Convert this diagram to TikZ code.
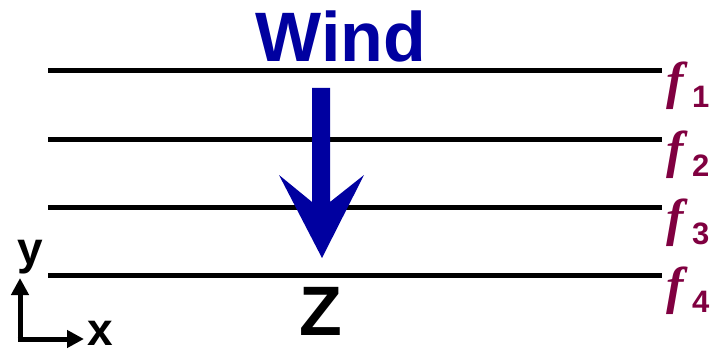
\documentclass[tikz,border=0pt]{standalone}
\usepackage{fontspec}
\setmainfont{Liberation Sans}
\newfontfamily\fserif{Liberation Serif}
\usetikzlibrary{arrows.meta}
\definecolor{windblue}{RGB}{0,0,160}
\definecolor{fcol}{RGB}{128,0,64}
\tikzset{
  layer/.style={line width=5pt},
  bigtxt/.style={inner sep=0pt,font=\bfseries\fontsize{70}{70}\selectfont},
  axtxt/.style={inner sep=0pt,font=\bfseries\fontsize{46}{46}\selectfont},
  flabel/.style={inner sep=0pt,text=fcol,font=\fserif\bfseries\itshape\fontsize{52}{52}\selectfont},
  fsub/.style={inner sep=0pt,text=fcol,font=\bfseries\fontsize{31}{31}\selectfont},
  axis/.style={line width=5pt,-{Triangle[length=17pt,width=17pt]}}
}
\begin{document}
\begin{tikzpicture}[x=1pt,y=-1pt]
\useasboundingbox (0,0) rectangle (713,353);
% layers
\foreach \i/\yy in {1/71,2/139,3/207,4/275}{
  \coordinate (L\i a) at (48,\yy);
  \coordinate (L\i b) at (662,\yy);
  \draw[layer] (L\i a) -- (L\i b);
  \node[flabel,anchor=base west] (f\i) at (666,\yy+28) {f};
  \node[fsub,anchor=base west] (s\i) at (692,\yy+37) {\i};
}
% wind
\node[bigtxt,text=windblue,anchor=base] (wind) at (341,62) {Wind};
\fill[windblue] (312,88) -- (330,88) -- (330,202) -- (364,175) -- (322,258) -- (279,175) -- (312,202) -- cycle;
\node[bigtxt,anchor=base] (z) at (321,335) {Z};
% axes
\coordinate (o) at (20,339);
\coordinate (yt) at (20,278);
\coordinate (xt) at (84,339);
\draw[axis] ([yshift=-2.5pt]o) -- (yt);
\draw[axis] ([xshift=-2.5pt]o) -- (xt);
\node[axtxt,anchor=base] (ylab) at (30,264) {y};
\node[axtxt,anchor=base] (xlab) at (100,345) {x};
\end{tikzpicture}
\end{document}
